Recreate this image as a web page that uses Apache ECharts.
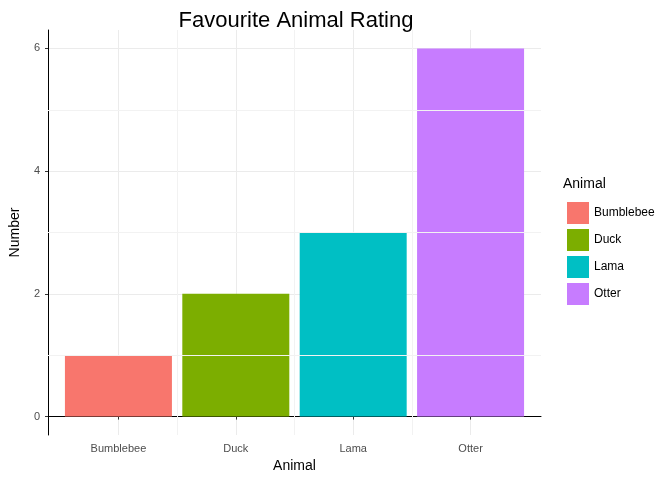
<!DOCTYPE html>
<html><head><meta charset="utf-8">
<script src="https://cdn.jsdelivr.net/npm/echarts@6/dist/echarts.min.js"></script>
<style>html,body{margin:0;background:#fff}#c{width:672px;height:480px}</style>
</head><body><div id="c"></div>
<script>
const categories = ['Bumblebee','Duck','Lama','Otter'];
const values = [1,2,3,6];
const colors = ['#F8766D','#7CAE00','#00BFC4','#C77CFF'];
const yTicks = [0,2,4,6];

const chart = echarts.init(document.getElementById('c'));
const series = categories.map((c,i)=>({
  name:c, type:'bar', barWidth:107, barGap:'-100%',
  itemStyle:{color:colors[i]},
  data:[[i+1, values[i]]]
}));
chart.setOption({
  animation:false,
  textStyle:{fontFamily:'Liberation Sans'},
  title:{text:'Favourite Animal Rating',left:291,textAlign:'center',top:5,
    textStyle:{fontSize:22,fontWeight:'normal',color:'#000',fontFamily:'Liberation Sans'}},
  grid:{left:40,right:131,top:30,bottom:45},
  legend:{orient:'vertical',left:562,top:197,itemWidth:22,itemHeight:22,itemGap:5,
    icon:'rect',textStyle:{fontSize:12,color:'#000'},data:categories},
  graphic:[{type:'text',left:563,top:177,style:{text:'Animal',fontSize:14,fill:'#000',fontFamily:'Liberation Sans'}}],
  xAxis:{type:'value',min:0.4,max:4.6,name:'Animal',nameLocation:'middle',nameGap:22,
    nameTextStyle:{fontSize:14,color:'#000'},
    axisLine:{show:true,lineStyle:{color:'#000'}},
    axisTick:{show:true,customValues:[1,2,3,4],length:3,lineStyle:{color:'#333'}},
    axisLabel:{customValues:[1,2,3,4],formatter:v=>categories[Math.round(v)-1]||'',color:'#4d4d4d',fontSize:11},
    splitLine:{show:true,lineStyle:{color:'#ebebeb'}}},
  yAxis:{type:'value',min:-0.3,max:6.3,name:'Number',nameLocation:'middle',nameGap:26,
    nameTextStyle:{fontSize:14,color:'#000'},
    axisLine:{show:true,lineStyle:{color:'#000'}},
    axisTick:{show:true,customValues:yTicks,length:3,lineStyle:{color:'#333'}},
    axisLabel:{customValues:yTicks,color:'#4d4d4d',fontSize:11},
    splitLine:{show:true,lineStyle:{color:'#ebebeb'}}},
  series: series.concat([{type:'line',data:[],markLine:{silent:true,symbol:'none',label:{show:false},
    lineStyle:{color:'#f2f2f2',type:'solid',width:1},
    data:[{yAxis:1},{yAxis:3},{yAxis:5},{xAxis:1.5},{xAxis:2.5},{xAxis:3.5}]},z:0}])
});
</script></body></html>
